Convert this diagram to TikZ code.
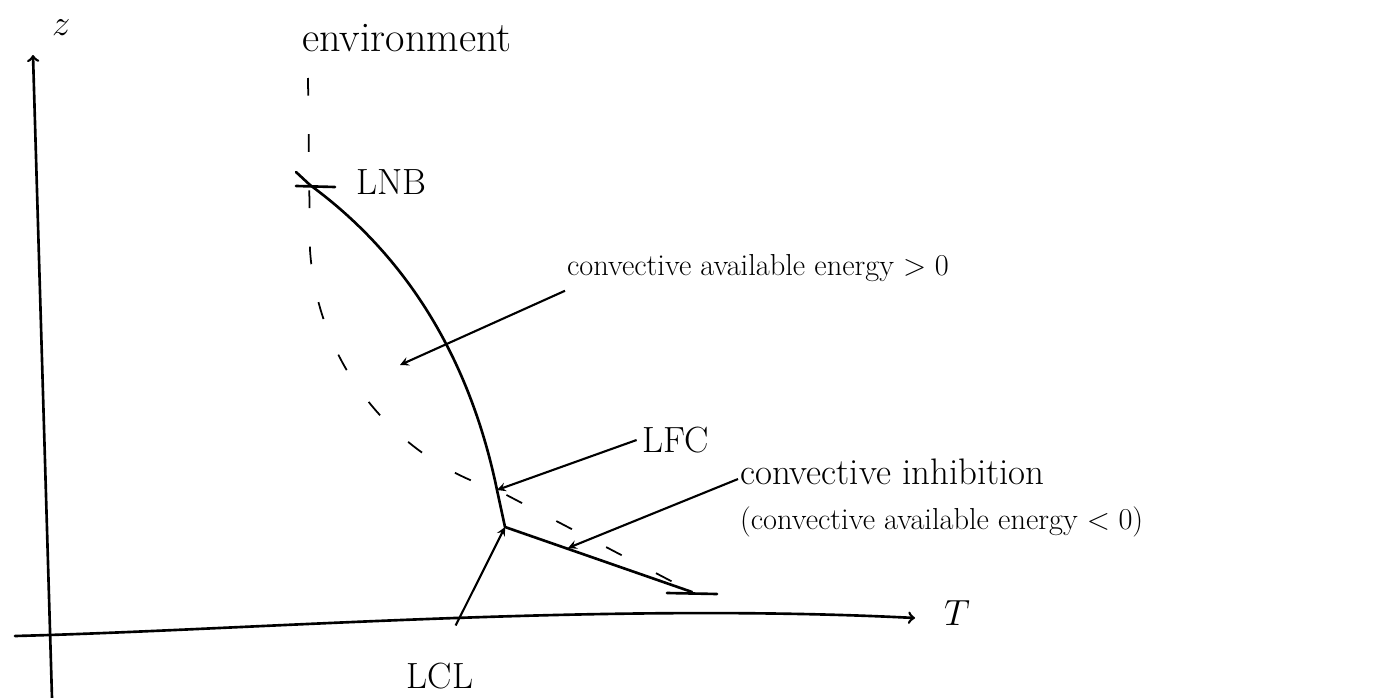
\documentclass[tikz,border=0pt]{standalone}
\usetikzlibrary{positioning}
\tikzset{
  curve/.style={line width=1.5pt, line cap=round, line join=round},
  envline/.style={line width=1pt, dash pattern=on 10pt off 22pt},
  pointer/.style={line width=1.2pt, ->, >=stealth},
  lbl/.style={font=\huge},
  note/.style={font=\LARGE, inner sep=1pt}
}
\begin{document}
\begin{tikzpicture}[x=0.2mm, y=-0.2mm]
\useasboundingbox (0,0) rectangle (1375,698);
% axes
\draw[curve, ->] (52,698) -- (33,55);
\node[lbl, anchor=west] (zlab) at (46,28) {$z$};
\draw[curve, ->] (15,636) .. controls (250,630) and (600,602) .. (915,618);
\node[lbl, anchor=west] (tlab) at (938,613) {$T$};
% points on the curves
\coordinate (lnbpt) at (310,185);
\coordinate (lfcpt) at (497,490);
\coordinate (kink) at (505,527);
\coordinate (surf) at (692,592);
\coordinate (cinpt) at (568,548);
\coordinate (capept) at (400,365);
% environment
\draw[envline] (308,78) -- (310,250) .. controls (318,370) and (400,460) .. (lfcpt) -- (surf);
\node[font=\fontsize{24}{28}\selectfont, anchor=west] (env) at (296,38) {environment};
% parcel
\draw[curve] (296,172) -- (lnbpt) .. controls (392,245) and (466,340) .. (lfcpt) -- (kink) -- (surf);
\draw[curve] (296,186) -- (335,187);
\draw[curve] (667,593) -- (717,594);
% labels
\node[lbl, anchor=west] (lnb) at (350,182) {LNB};
\node[lbl] (lfc) at (676,440) {LFC};
\node[lbl] (lcl) at (440,676) {LCL};
\node[note, anchor=west] (cape) at (565,268) {convective available energy $>0$};
\node[note, font=\fontsize{21}{25}\selectfont, anchor=west] (cin) at (738,472) {convective inhibition};
\node[note, below=20pt of cin.south west, anchor=west] (cinsub) {(convective available energy $<0$)};
\draw[pointer] ([yshift=-4pt]cape.south west) -- (capept);
\draw[pointer] (lfc.west) -- (lfcpt);
\draw[pointer] ([yshift=-4pt]cin.west) -- (cinpt);
\draw[pointer, shorten <=7mm] (lcl.north) -- (kink);
\end{tikzpicture}
\end{document}
